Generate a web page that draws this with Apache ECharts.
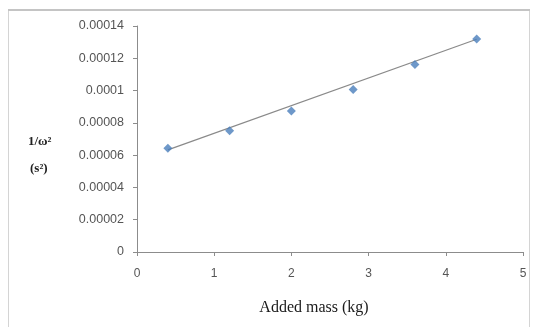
<!DOCTYPE html>
<html>
<head>
<meta charset="utf-8">
<script src="https://cdn.jsdelivr.net/npm/echarts@6/dist/echarts.min.js"></script>
<style>
html, body { margin: 0; padding: 0; background: #fff; }
#chart { width: 536px; height: 327px; }
</style>
</head>
<body>
<div id="chart"></div>
<script>
// added mass (kg) and 1/omega^2 (s^2)
var addedMass = [0.4, 1.2, 2.0, 2.8, 3.6, 4.4];
var invOmegaSq = [0.0000642, 0.0000751, 0.0000873, 0.0001007, 0.0001162, 0.0001319];
// linear trendline ends, as drawn
var trendX = [0.4, 4.4];
var trendY = [0.0000633, 0.0001318];

var points = addedMass.map(function (m, i) { return [m, invOmegaSq[i]]; });
var trend = trendX.map(function (m, i) { return [m, trendY[i]]; });

var chart = echarts.init(document.getElementById('chart'));
chart.setOption({
  animation: false,
  grid: { left: 137, right: 13, top: 26, bottom: 75 },
  graphic: [
    {
      type: 'rect', silent: true,
      shape: { x: 8.5, y: 10.5, width: 521, height: 330 },
      style: { fill: 'none', stroke: '#d4d4d4', lineWidth: 1 }
    },
    {
      type: 'line', silent: true,
      shape: { x1: 8, y1: 10, x2: 530, y2: 10 },
      style: { stroke: '#c4c4c4', lineWidth: 2 }
    },
    {
      type: 'text', left: 28, top: 135,
      style: { text: '1/\u03c9\u00b2', font: 'bold 13px "Liberation Serif"', fill: '#222' }
    },
    {
      type: 'text', left: 30, top: 162,
      style: { text: '(s\u00b2)', font: 'bold 13px "Liberation Serif"', fill: '#222' }
    },
    {
      type: 'text', x: 314, y: 308,
      style: {
        text: 'Added mass (kg)', font: '16px "Liberation Serif"', fill: '#1a1a1a',
        align: 'center', verticalAlign: 'middle'
      }
    }
  ],
  xAxis: {
    type: 'value', min: 0, max: 5, interval: 1,
    axisLine: { lineStyle: { color: '#8c8c8c' } },
    axisTick: { show: true, length: 4, lineStyle: { color: '#8c8c8c' } },
    axisLabel: { fontFamily: 'Liberation Sans', fontSize: 12, color: '#555', margin: 16 },
    splitLine: { show: false }
  },
  yAxis: {
    type: 'value', min: 0, max: 0.00014, interval: 0.00002,
    axisLine: { show: true, lineStyle: { color: '#8c8c8c' } },
    axisTick: { show: true, length: 4, lineStyle: { color: '#8c8c8c' } },
    axisLabel: {
      fontFamily: 'Liberation Sans', fontSize: 12.5, color: '#555', margin: 13,
      formatter: function (v) { return String(parseFloat(v.toPrecision(6))); }
    },
    splitLine: { show: false }
  },
  series: [
    {
      type: 'line', data: trend, symbol: 'none',
      lineStyle: { color: '#8a8a8a', width: 1.2 }, z: 1
    },
    {
      type: 'scatter', data: points, symbol: 'diamond', symbolSize: 9,
      itemStyle: { color: '#4a7ebb' }, z: 2
    }
  ]
});
</script>
</body>
</html>
